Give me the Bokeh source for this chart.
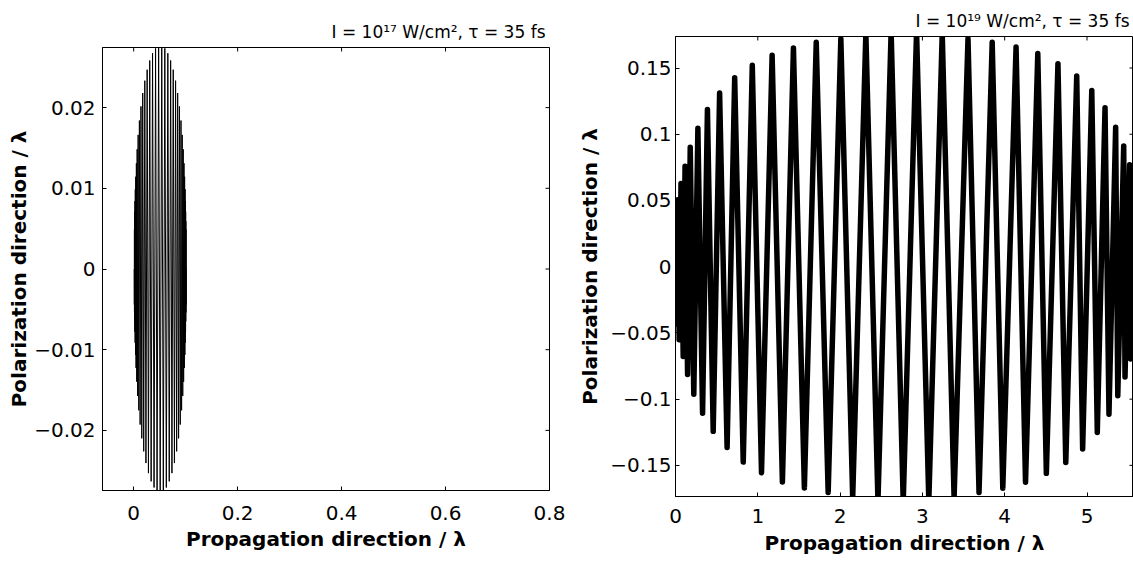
import math
from bokeh.plotting import figure
from bokeh.layouts import row, column
from bokeh.models import Range1d, FixedTicker
from bokeh.embed import file_html
from bokeh.resources import INLINE

# ---------------- data (turning points of the trajectories) ----------------
# Left panel: I = 1e17 W/cm^2 -- alternating troughs / peaks along the propagation direction
left_x = [0.0010, 0.0013, 0.0014, 0.0015, 0.0017, 0.0018, 0.0020, 0.0022, 0.0025, 0.0028, 0.0031,
          0.0035, 0.0040, 0.0046, 0.0052, 0.0059, 0.0067, 0.0076, 0.0086, 0.0098, 0.0110,
          0.0124, 0.0140, 0.0156, 0.0174, 0.0193, 0.0214, 0.0236, 0.0259, 0.0284, 0.0309,
          0.0336, 0.0363, 0.0392, 0.0421, 0.0450, 0.0480, 0.0510, 0.0540, 0.0570, 0.0599,
          0.0628, 0.0657, 0.0684, 0.0711, 0.0736, 0.0761, 0.0784, 0.0806, 0.0827, 0.0846,
          0.0864, 0.0880, 0.0896, 0.0910, 0.0922, 0.0934, 0.0944, 0.0953, 0.0961, 0.0968,
          0.0974, 0.0980, 0.0985, 0.0989, 0.0992, 0.0995, 0.0998, 0.1000, 0.1002, 0.1003,
          0.1005, 0.1006, 0.1007, 0.1010]
left_y = [0.0, -0.00443, 0.00490, -0.00540, 0.00594, -0.00651, 0.00711, -0.00776, 0.00843, -0.00914,
          0.00988, -0.01065, 0.01144, -0.01226, 0.01310, -0.01397, 0.01484, -0.01573, 0.01662,
          -0.01751, 0.01840, -0.01928, 0.02015, -0.02099, 0.02181, -0.02260, 0.02334, -0.02405,
          0.02470, -0.02530, 0.02584, -0.02632, 0.02674, -0.02708, 0.02735, -0.02754, 0.02766,
          -0.02770, 0.02766, -0.02754, 0.02735, -0.02708, 0.02674, -0.02632, 0.02584, -0.02530,
          0.02470, -0.02405, 0.02334, -0.02260, 0.02181, -0.02099, 0.02015, -0.01928, 0.01840,
          -0.01751, 0.01662, -0.01573, 0.01484, -0.01397, 0.01310, -0.01226, 0.01144, -0.01065,
          0.00988, -0.00914, 0.00843, -0.00776, 0.00711, -0.00651, 0.00594, -0.00540, 0.00490,
          -0.00443, 0.0]

# Right panel: I = 1e19 W/cm^2
right_x = [0.000, 0.001, 0.002, 0.004, 0.007, 0.012, 0.018, 0.027, 0.0445, 0.067, 0.0934, 0.116,
           0.1468, 0.179, 0.2224, 0.272, 0.329, 0.388, 0.458, 0.536, 0.627, 0.719, 0.823, 0.933,
           1.045, 1.174, 1.299, 1.433, 1.566, 1.710, 1.855, 2.009, 2.153, 2.313, 2.460, 2.620,
           2.767, 2.929, 3.078, 3.241, 3.385, 3.554, 3.688, 3.848, 3.977, 4.138, 4.253, 4.402,
           4.506, 4.647, 4.742, 4.875, 4.947, 5.058, 5.125, 5.219, 5.267, 5.348, 5.374, 5.446,
           5.462, 5.518, 5.530, 5.567, 5.590, 5.620]
right_y = [0.000, 0.014, -0.020, 0.026, -0.032, 0.038, -0.0436, 0.0505, -0.0551, 0.0629, -0.0678,
           0.0758, -0.0813, 0.0901, -0.0963, 0.1045, -0.1106, 0.1187, -0.1243, 0.1311, -0.1365,
           0.1427, -0.1475, 0.1520, -0.1556, 0.1596, -0.1625, 0.1652, -0.1670, 0.1694, -0.1704,
           0.1722, -0.1745, 0.1760, -0.1770, 0.1775, -0.1775, 0.1775, -0.1770, 0.1760, -0.1745,
           0.1722, -0.1704, 0.1694, -0.1672, 0.1659, -0.1627, 0.1609, -0.1560, 0.1533, -0.1478,
           0.1440, -0.1376, 0.1331, -0.1252, 0.1200, -0.1114, 0.1053, -0.0974, 0.0912, -0.0832,
           0.0770, -0.0696, 0.0636, -0.0570, 0.0500]

left_xticks = [0, 0.2, 0.4, 0.6, 0.8]
left_xtick_labels = ["0", "0.2", "0.4", "0.6", "0.8"]
left_yticks = [-0.02, -0.01, 0, 0.01, 0.02]
left_ytick_labels = ["\u22120.02", "\u22120.01", "0", "0.01", "0.02"]

right_xticks = [0, 1, 2, 3, 4, 5]
right_xtick_labels = ["0", "1", "2", "3", "4", "5"]
right_yticks = [-0.15, -0.1, -0.05, 0, 0.05, 0.1, 0.15]
right_ytick_labels = ["\u22120.15", "\u22120.1", "\u22120.05", "0", "0.05", "0.1", "0.15"]

left_title = "I = 10\u00b9\u2077 W/cm\u00b2, \u03c4 = 35 fs"
right_title = "I = 10\u00b9\u2079 W/cm\u00b2, \u03c4 = 35 fs"
x_label = "Propagation direction / \u03bb"
y_label = "Polarization direction / \u03bb"

FONT = "DejaVu Sans"


def style_axis(ax, ticks, labels, standoff, label_standoff):
    ax.ticker = FixedTicker(ticks=ticks)
    ax.major_label_overrides = dict(zip(ticks, labels))
    ax.major_tick_in = 4
    ax.major_tick_out = 0
    ax.minor_tick_in = 0
    ax.minor_tick_out = 0
    ax.major_tick_line_color = "black"
    ax.axis_line_color = "black"
    ax.major_label_text_font = FONT
    ax.major_label_text_font_size = "20px"
    ax.major_label_text_color = "black"
    ax.major_label_standoff = standoff
    ax.axis_label_text_font = FONT
    ax.axis_label_text_font_style = "bold"
    ax.axis_label_text_font_size = "20px"
    ax.axis_label_text_color = "black"
    ax.axis_label_standoff = label_standoff


def box_ticks(p, xticks, yticks, right_side=True):
    # inward ticks on the top (and right) edge of the box, like the MATLAB frame
    xe = p.x_range.end
    ye = p.y_range.end
    p.scatter(x=xticks, y=[ye] * len(xticks), marker="dash", angle=math.pi / 2, size=8,
              line_color="black", line_width=1)
    if right_side:
        p.scatter(x=[xe] * len(yticks), y=yticks, marker="dash", size=8,
                  line_color="black", line_width=1)


def make_fig(width, height, xr, yr, mbl, mbr, mbt, mbb, title):
    p = figure(width=width, height=height, x_range=Range1d(*xr), y_range=Range1d(*yr),
               output_backend="svg", toolbar_location=None,
               min_border_left=mbl, min_border_right=mbr, min_border_top=mbt, min_border_bottom=mbb,
               title=title)
    p.xgrid.visible = False
    p.ygrid.visible = False
    p.outline_line_color = "black"
    p.outline_line_width = 1
    p.outline_line_alpha = 1
    p.background_fill_color = "white"
    p.border_fill_color = "white"
    p.title.align = "right"
    p.title.text_font = FONT
    p.title.text_font_style = "normal"
    p.title.text_font_size = "17px"
    p.title.text_color = "black"
    p.title.standoff = 11
    p.title.offset = 4
    return p


# ---------------- left panel ----------------
p1 = make_fig(573, 553, (-0.06, 0.8), (-0.02745, 0.02745), 102, 24, 47, 60, left_title)
p1.line(left_x, left_y, line_color="black", line_width=1)
style_axis(p1.xaxis[0], left_xticks, left_xtick_labels, 15, 4)
style_axis(p1.yaxis[0], left_yticks, left_ytick_labels, 7, 0)
p1.xaxis[0].axis_label = x_label
p1.yaxis[0].axis_label = y_label
box_ticks(p1, left_xticks, left_yticks)

# ---------------- right panel ----------------
p2 = make_fig(560, 558, (0, 5.565), (-0.1735, 0.1738), 102, 0, 36, 62, right_title)
p2.line(right_x, right_y, line_color="black", line_width=5.5, line_join="round", line_cap="round")
style_axis(p2.xaxis[0], right_xticks, right_xtick_labels, 12, 5)
style_axis(p2.yaxis[0], right_yticks, right_ytick_labels, 4, 5)
p2.xaxis[0].axis_label = x_label
p2.yaxis[0].axis_label = y_label
box_ticks(p2, right_xticks, right_yticks)

layout = row(column(p1), column(p2))

open("out.html", "w").write(file_html(layout, INLINE))
